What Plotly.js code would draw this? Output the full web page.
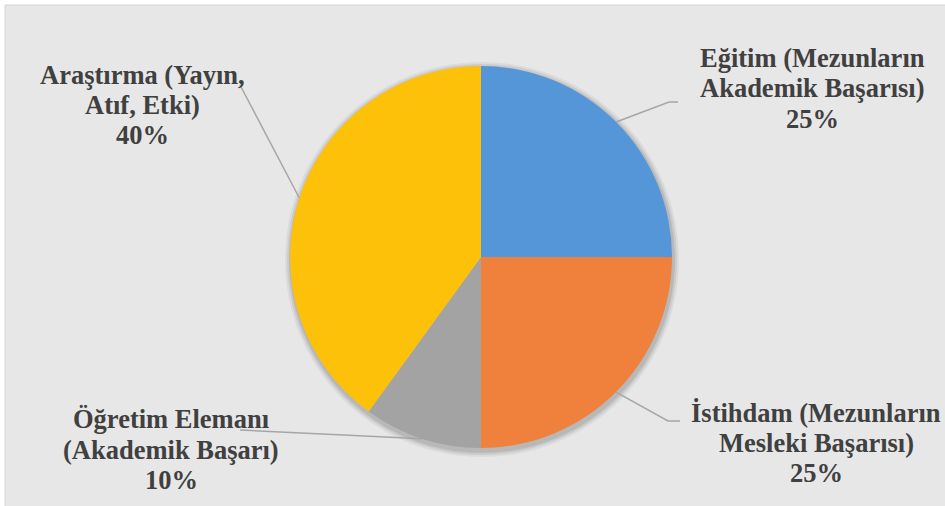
<!DOCTYPE html>
<html>
<head>
<meta charset="utf-8">
<script src="https://cdn.plot.ly/plotly-3.0.1.min.js"></script>
<style>html,body{margin:0;padding:0;background:#fff}#chart{width:945px;height:506px}</style>
</head>
<body>
<div id="chart"></div>
<script>
// ---- data ----
const categories = [
  "Eğitim (Mezunların<br>Akademik Başarısı)",
  "İstihdam (Mezunların<br>Mesleki Başarısı)",
  "Öğretim Elemanı<br>(Akademik Başarı)",
  "Araştırma (Yayın,<br>Atıf, Etki)"
];
const values = [25, 25, 10, 40];
const colors = ["#5596d8", "#ef813d", "#a3a3a3", "#fdc109"];

// ---- layout geometry (pixels) ----
const W = 945, H = 506;
const cx = 481, cy = 257, R = 191;
const FS = 26.5;
// label centre x, first-line baseline, line pitch, leader-line end points (styling)
const labelPos = [
  {x: 812, base: 66.5, pitch: 30.8, ends: [[669, 102], [678, 102]]},
  {x: 816, base: 421.7, pitch: 30, ends: [[668, 421], [680, 421]]},
  {x: 171, base: 428.3, pitch: 30.5, ends: [[240, 430]]},
  {x: 142, base: 84.3, pitch: 30, ends: [[240, 85]]}
];

const px = x => x / W;
const py = y => 1 - y / H;

const total = values.reduce((a, b) => a + b, 0);
const annotations = [];
const shapes = [];

// background panel
shapes.push({type: 'rect', xref: 'paper', yref: 'paper', layer: 'below',
  x0: px(5), x1: px(W + 5), y0: py(H + 5), y1: py(5),
  fillcolor: '#e7e7e7', line: {color: '#d6d6d6', width: 1}});
// soft shadow of the pie
[[6, 0.05], [4, 0.07], [2, 0.09]].forEach(([d, op]) => {
  shapes.push({type: 'circle', xref: 'paper', yref: 'paper', layer: 'below',
    x0: px(cx - R - d + 1), x1: px(cx + R + d + 1), y0: py(cy + R + d + 3), y1: py(cy - R - d + 2),
    fillcolor: 'rgba(0,0,0,' + op + ')', line: {width: 0}});
});

let cum = 0;
values.forEach((v, i) => {
  const mid = (cum + v / 2) / total * 2 * Math.PI; // clockwise from top
  cum += v;
  const ex = cx + Math.sin(mid) * R;
  const ey = cy - Math.cos(mid) * R;
  let path = 'M' + px(ex) + ',' + py(ey);
  labelPos[i].ends.forEach(p => { path += ' L' + px(p[0]) + ',' + py(p[1]); });
  shapes.push({type: 'path', xref: 'paper', yref: 'paper', layer: 'above', path: path,
    line: {color: '#a6a6a6', width: 1.5}});
  const pct = Math.round(v / total * 100) + '%';
  const lines = categories[i].split('<br>').concat([pct]);
  const lp = labelPos[i];
  lines.forEach((t, k) => {
    const baseline = lp.base + k * lp.pitch;
    annotations.push({xref: 'paper', yref: 'paper', x: px(lp.x), y: py(baseline - 0.3375 * FS),
      xanchor: 'center', yanchor: 'middle', showarrow: false, align: 'center',
      text: '<b>' + t + '</b>',
      font: {family: 'Liberation Serif, Times New Roman, serif', size: FS, color: '#404040'}});
  });
});

const trace = {
  type: 'pie',
  labels: categories,
  values: values,
  sort: false,
  direction: 'clockwise',
  rotation: 0,
  textinfo: 'none',
  hoverinfo: 'label+percent',
  marker: {colors: colors, line: {width: 0}},
  domain: {x: [px(cx - R), px(cx + R)], y: [py(cy + R), py(cy - R)]},
  showlegend: false
};

const layout = {
  width: W, height: H,
  margin: {l: 0, r: 0, t: 0, b: 0},
  paper_bgcolor: '#ffffff',
  showlegend: false,
  shapes: shapes,
  annotations: annotations
};

Plotly.newPlot('chart', [trace], layout, {displayModeBar: false, staticPlot: true});
</script>
</body>
</html>
